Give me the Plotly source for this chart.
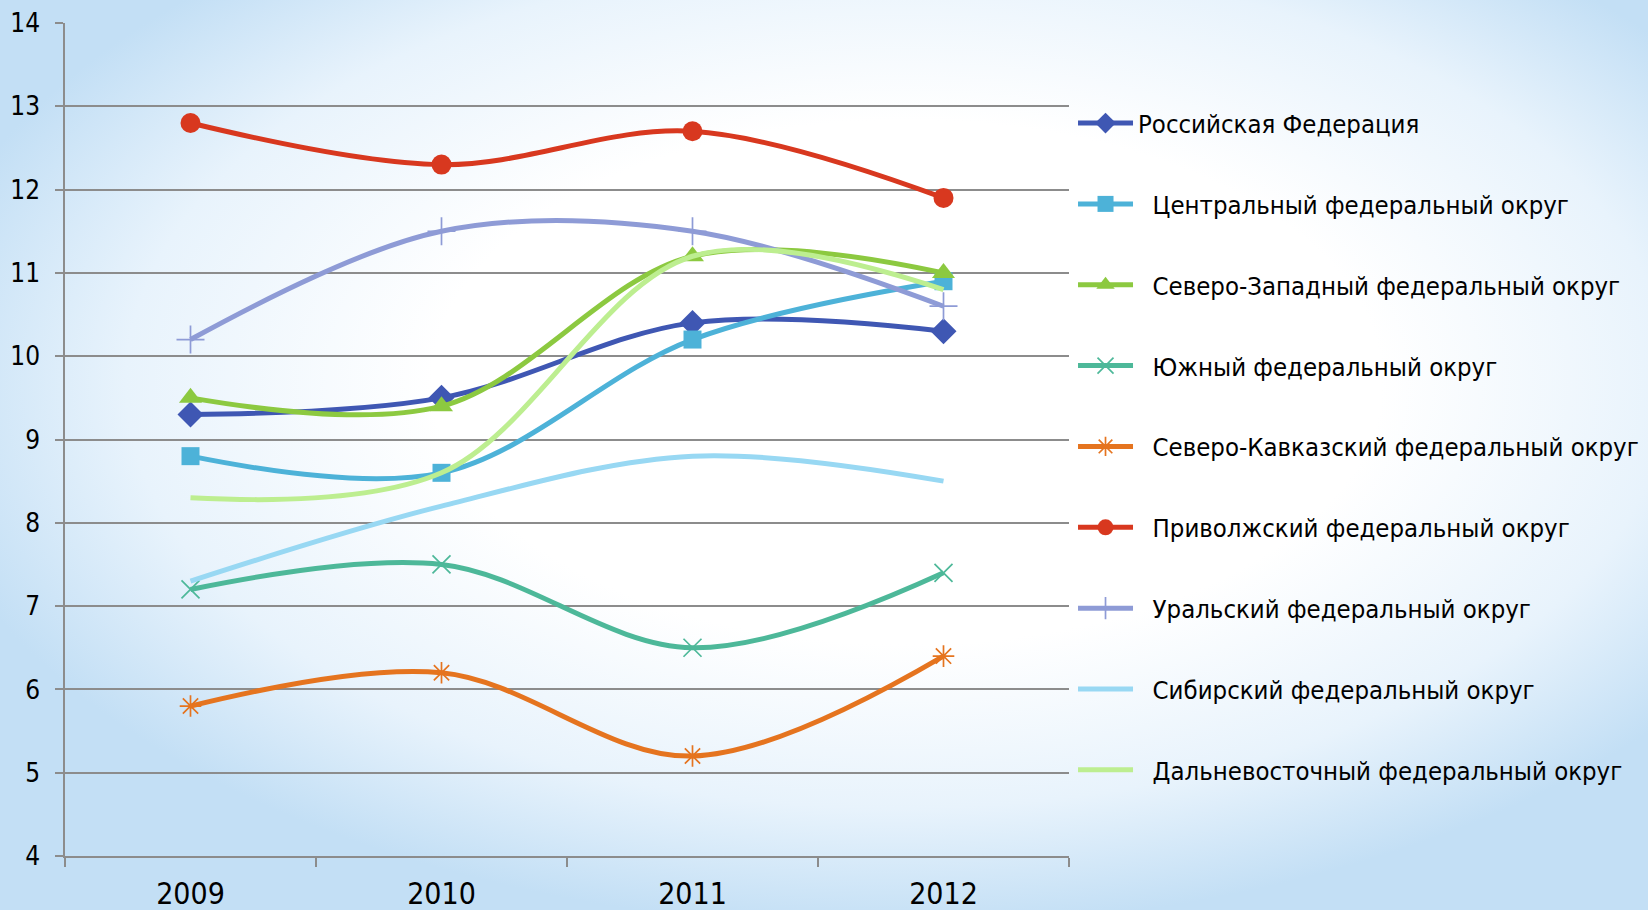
import base64
import plotly.graph_objects as go

years = ["2009", "2010", "2011", "2012"]

names = [
    "Российская Федерация",
    "Центральный федеральный округ",
    "Северо-Западный федеральный округ",
    "Южный федеральный округ",
    "Северо-Кавказский федеральный округ",
    "Приволжский федеральный округ",
    "Уральский федеральный округ",
    "Сибирский федеральный округ",
    "Дальневосточный федеральный округ",
]

rf = [9.3, 9.5, 10.4, 10.3]
central = [8.8, 8.6, 10.2, 10.9]
northwest = [9.5, 9.4, 11.2, 11.0]
south = [7.2, 7.5, 6.5, 7.4]
ncaucasus = [5.8, 6.2, 5.2, 6.4]
volga = [12.8, 12.3, 12.7, 11.9]
ural = [10.2, 11.5, 11.5, 10.6]
siberia = [7.3, 8.2, 8.8, 8.5]
fareast = [8.3, 8.6, 11.2, 10.8]

values = [rf, central, northwest, south, ncaucasus, volga, ural, siberia, fareast]
colors = ["#3F57B3", "#4DB2D8", "#8CC940", "#4DB899", "#E5741F",
          "#D8381F", "#8E9BD6", "#98D8F3", "#BDEE90"]
symbols = ["diamond", "square", "triangle-up", "x-thin-open", "asterisk-open",
           "circle", "cross-thin-open", None, None]
sizes = [20, 18, 20, 18, 18, 20, 20, 0, 0]

fig = go.Figure()
for i, (nm, vals, col, sym, sz) in enumerate(zip(names, values, colors, symbols, sizes)):
    label = nm if i == 0 else "\u00a0\u00a0" + nm
    marker = dict(color=col, size=sz)
    if sym is not None:
        marker["symbol"] = sym
        if sym.endswith("open"):
            marker["line"] = dict(color=col, width=1.7)
    fig.add_trace(go.Scatter(
        x=years, y=vals, name=label,
        mode="lines+markers" if sym else "lines",
        line=dict(color=col, width=5, shape="spline", smoothing=1.0),
        marker=marker,
        legendgroup=f"g{i}",
    ))

svg = """<svg xmlns='http://www.w3.org/2000/svg' width='1648' height='910' viewBox='0 0 1648 910' preserveAspectRatio='none'>
<defs>
<radialGradient id='g' cx='0.54' cy='0.42' r='0.6' fx='0.56' fy='0.42'>
<stop offset='0' stop-color='#ffffff'/>
<stop offset='0.48' stop-color='#ffffff'/>
<stop offset='0.78' stop-color='#E8F3FC'/>
<stop offset='1' stop-color='#C3DFF5'/>
</radialGradient>
</defs>
<rect width='1648' height='910' fill='url(#g)'/>
</svg>"""
src = "data:image/svg+xml;base64," + base64.b64encode(svg.encode()).decode()

L, R, T, B = 65, 1648 - 1069, 23, 910 - 856
pw, ph = 1648 - L - R, 910 - T - B

fig.update_layout(
    width=1648, height=910,
    margin=dict(l=L, r=R, t=T, b=B, pad=0, autoexpand=False),
    paper_bgcolor="#ffffff",
    plot_bgcolor="rgba(0,0,0,0)",
    font=dict(family="DejaVu Sans Condensed, DejaVu Sans", color="#000000"),
    images=[dict(source=src, xref="paper", yref="paper",
                 x=-L / pw, y=1 + T / ph, sizex=1648 / pw, sizey=910 / ph,
                 xanchor="left", yanchor="top", sizing="stretch", layer="below")],
    showlegend=True,
    legend=dict(x=1.004, y=0.9076, xanchor="left", yanchor="top",
                font=dict(size=25.5, color="#000000"),
                bgcolor="rgba(0,0,0,0)", tracegroupgap=44.7, itemwidth=55,
                traceorder="grouped"),
    xaxis=dict(type="category", range=[-0.5, 3.5], showgrid=False,
               showline=True, linecolor="#8C8C8C", linewidth=1.5,
               ticks="outside", tickson="boundaries", ticklen=9,
               tickcolor="#8C8C8C", tickwidth=1.5, ticklabelstandoff=10,
               tickfont=dict(size=30, color="#000000"), zeroline=False),
    yaxis=dict(range=[4, 14], dtick=1, showgrid=True, gridcolor="#8C8C8C",
               gridwidth=1.5, showline=True, linecolor="#8C8C8C", linewidth=1.5,
               ticks="outside", ticklen=8, tickcolor="#8C8C8C", tickwidth=1.5,
               ticklabelstandoff=10,
               tickfont=dict(size=26, color="#000000"), zeroline=False),
)

fig.write_html("out.html", config={"displayModeBar": False},
               post_script="document.body.style.margin='0';document.body.style.padding='0';")
